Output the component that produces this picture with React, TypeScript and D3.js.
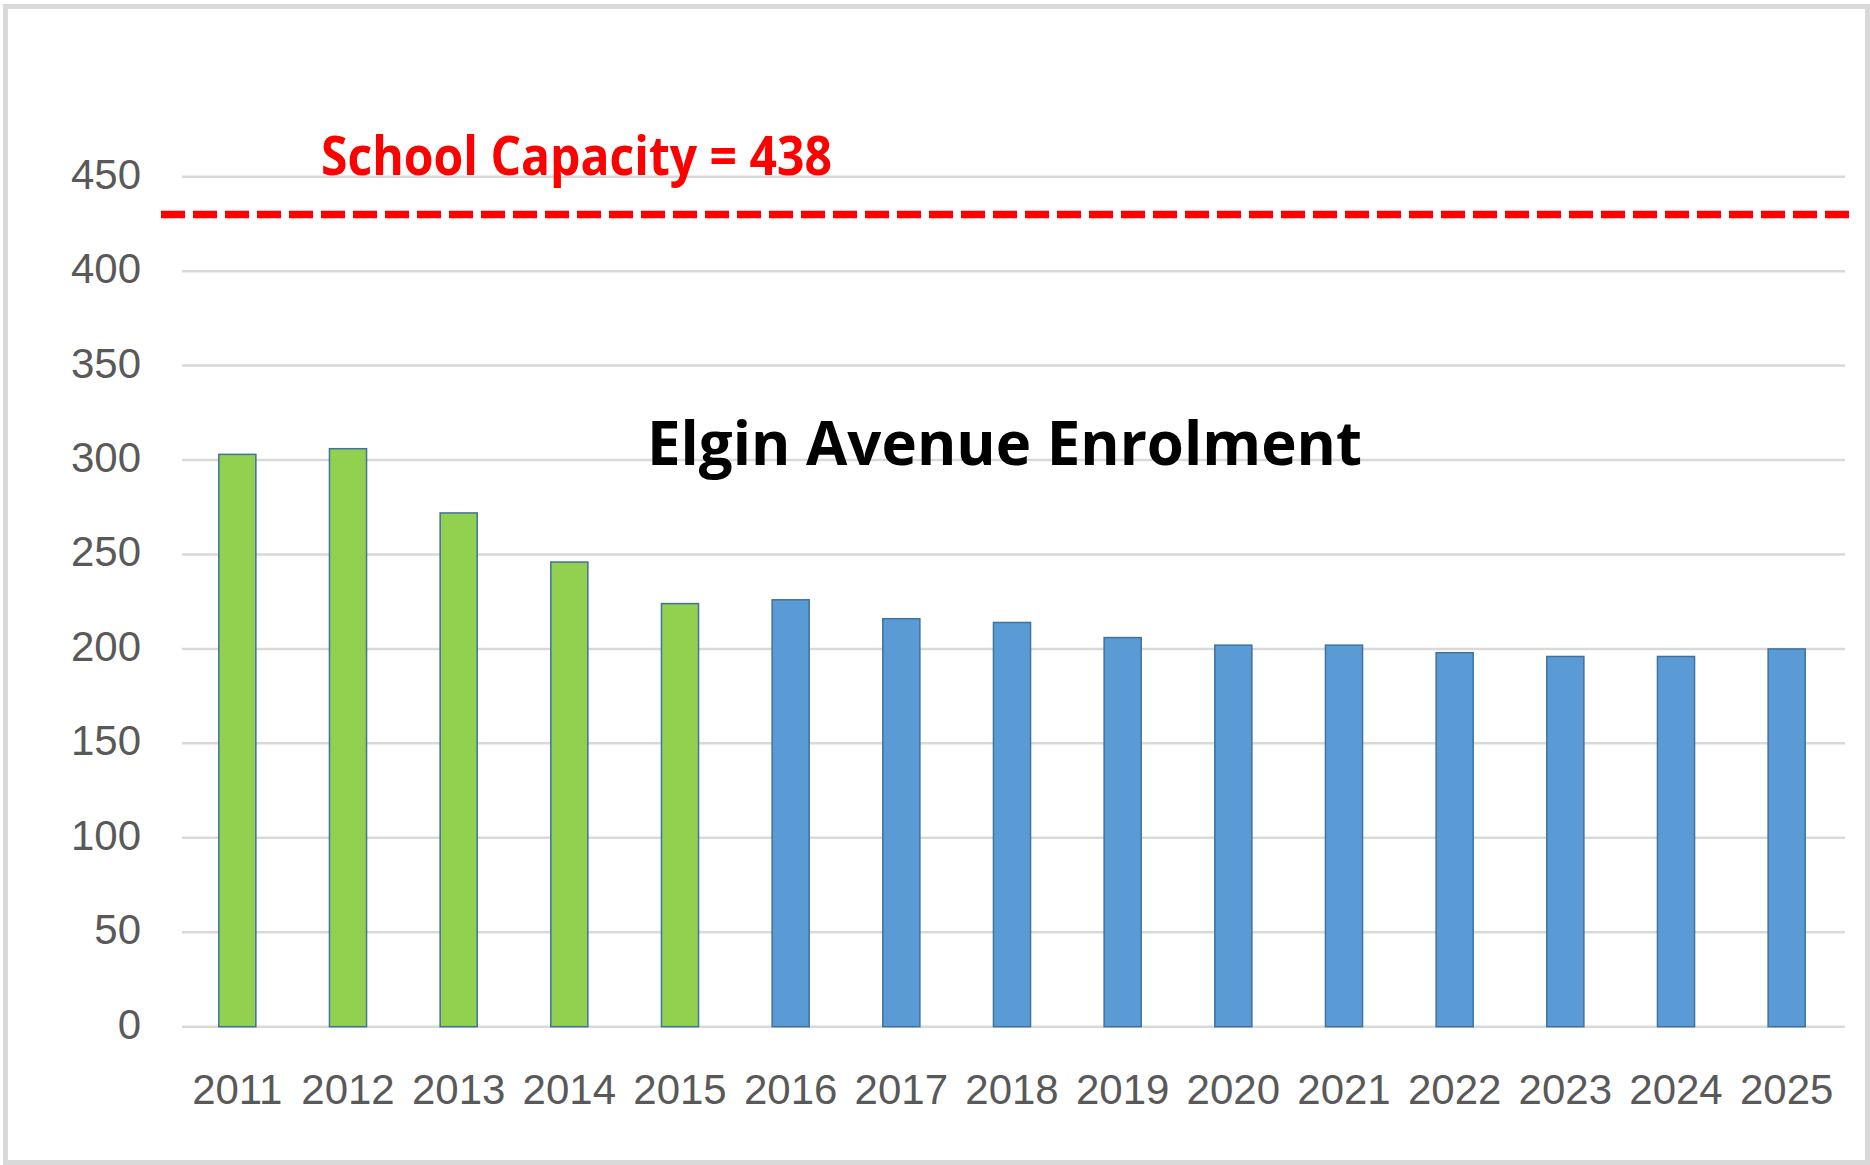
import { useEffect, useRef } from 'react';
import * as d3 from 'd3';

const years = ['2011', '2012', '2013', '2014', '2015', '2016', '2017', '2018', '2019', '2020', '2021', '2022', '2023', '2024', '2025'];
const enrolment = [303, 306, 272, 246, 224, 226, 216, 214, 206, 202, 202, 198, 196, 196, 200];
const actualYears = ['2011', '2012', '2013', '2014', '2015'];
const yTicks = [0, 50, 100, 150, 200, 250, 300, 350, 400, 450];
const capacityLabel = 'School Capacity = 438';
const capacityLineValue = 430; // where the dashed line sits in the picture
const title = 'Elgin Avenue Enrolment';

const App = () => {
  const svgRef = useRef<SVGSVGElement>(null);

  useEffect(() => {
    const width = 1870;
    const height = 1165;
    const plot = { left: 182, right: 1845, top: 176.7, bottom: 1026.7 };

    const svg = d3.select(svgRef.current);
    svg.selectAll('*').remove();
    svg.attr('width', width).attr('height', height);

    svg.append('rect')
      .attr('width', width).attr('height', height)
      .attr('fill', '#fff');

    // outer frame
    svg.append('rect')
      .attr('x', 5.5).attr('y', 6.5)
      .attr('width', 1862).attr('height', 1156)
      .attr('fill', 'none')
      .attr('stroke', '#d9d9d9')
      .attr('stroke-width', 5);

    const x = d3.scaleBand()
      .domain(years)
      .range([plot.left, 1842])
      .paddingInner(0.665)
      .paddingOuter(0.3325);

    const y = d3.scaleLinear()
      .domain([0, 450])
      .range([plot.bottom, plot.top]);

    // gridlines
    svg.append('g')
      .selectAll('line')
      .data(yTicks)
      .join('line')
      .attr('x1', plot.left)
      .attr('x2', plot.right)
      .attr('y1', d => y(d))
      .attr('y2', d => y(d))
      .attr('stroke', '#d9d9d9')
      .attr('stroke-width', 2.5);

    // y tick labels
    svg.append('g')
      .selectAll('text')
      .data(yTicks)
      .join('text')
      .attr('x', 141)
      .attr('y', d => y(d) + 12)
      .attr('text-anchor', 'end')
      .attr('font-family', '"Liberation Sans", Arial, sans-serif')
      .attr('font-size', 42)
      .attr('fill', '#595959')
      .text(d => d);

    // x tick labels
    svg.append('g')
      .selectAll('text')
      .data(years)
      .join('text')
      .attr('x', d => (x(d) ?? 0) + x.bandwidth() / 2)
      .attr('y', 1104)
      .attr('text-anchor', 'middle')
      .attr('font-family', '"Liberation Sans", Arial, sans-serif')
      .attr('font-size', 42)
      .attr('fill', '#595959')
      .text(d => d);

    // bars
    svg.append('g')
      .selectAll('rect')
      .data(years.map((yr, i) => ({ yr, v: enrolment[i] })))
      .join('rect')
      .attr('x', d => x(d.yr) ?? 0)
      .attr('y', d => y(d.v))
      .attr('width', x.bandwidth())
      .attr('height', d => y(0) - y(d.v))
      .attr('fill', d => actualYears.includes(d.yr) ? '#92d050' : '#5b9bd5')
      .attr('stroke', '#41719c')
      .attr('stroke-width', 1.5);

    // title
    svg.append('text')
      .attr('x', 647)
      .attr('y', 465)
      .attr('font-family', '"Open Sans", sans-serif')
      .attr('font-weight', 'bold')
      .attr('font-size', 61)
      .attr('fill', '#000')
      .attr('textLength', 715)
      .attr('lengthAdjust', 'spacingAndGlyphs')
      .text(title);

    // capacity line
    svg.append('line')
      .attr('x1', 161)
      .attr('x2', 1849)
      .attr('y1', y(capacityLineValue))
      .attr('y2', y(capacityLineValue))
      .attr('stroke', '#ff0000')
      .attr('stroke-width', 7.5)
      .attr('stroke-dasharray', '24 8');

    svg.append('text')
      .attr('x', 321)
      .attr('y', 175)
      .attr('font-family', '"Open Sans", sans-serif')
      .attr('font-weight', 'bold')
      .attr('font-size', 53)
      .attr('fill', '#ff0000')
      .attr('textLength', 511)
      .attr('lengthAdjust', 'spacingAndGlyphs')
      .text(capacityLabel);
  }, []);

  return <svg ref={svgRef} style={{ position: 'absolute', left: 0, top: 0 }}></svg>;
};

export default App;
